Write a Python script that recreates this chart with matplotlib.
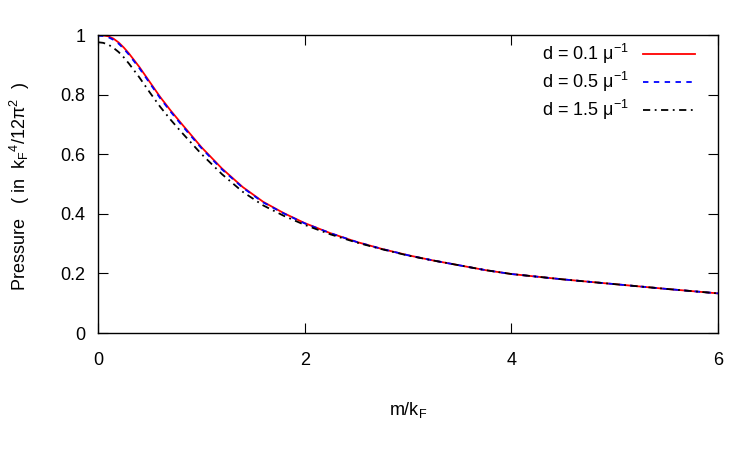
import matplotlib
matplotlib.use('Agg')
import matplotlib.pyplot as plt

plt.rcParams['font.family'] = ['Liberation Sans', 'DejaVu Sans']
plt.rcParams['mathtext.fontset'] = 'custom'
plt.rcParams['mathtext.rm'] = 'Liberation Sans'
plt.rcParams['mathtext.it'] = 'Liberation Sans'

# m/k_F sample points
m = [0, 0.05, 0.1, 0.15, 0.2, 0.25, 0.3, 0.4, 0.5, 0.6, 0.7, 0.8, 0.9, 1.0, 1.2, 1.4,
     1.6, 1.8, 2.0, 2.25, 2.5, 2.75, 3.0, 3.25, 3.5, 3.75, 4.0, 4.5, 5.0, 5.5, 6.0]

# pressure (in k_F^4/12pi^2) for each d
p_d01 = [1.0, 0.999, 0.996, 0.988, 0.975, 0.958, 0.938, 0.893, 0.843, 0.793, 0.748,
         0.706, 0.665, 0.624, 0.552, 0.490, 0.440, 0.402, 0.369, 0.335, 0.306, 0.282,
         0.261, 0.243, 0.227, 0.211, 0.198, 0.180, 0.164, 0.148, 0.133]
p_d05 = [0.998, 0.997, 0.993, 0.984, 0.971, 0.954, 0.934, 0.889, 0.839, 0.789, 0.744,
         0.702, 0.661, 0.621, 0.549, 0.488, 0.438, 0.401, 0.368, 0.335, 0.306, 0.282,
         0.261, 0.243, 0.227, 0.211, 0.198, 0.180, 0.164, 0.148, 0.133]
p_d15 = [0.976, 0.974, 0.968, 0.957, 0.943, 0.925, 0.904, 0.858, 0.808, 0.760, 0.717,
         0.677, 0.639, 0.601, 0.533, 0.474, 0.428, 0.393, 0.363, 0.331, 0.304, 0.281,
         0.260, 0.243, 0.227, 0.211, 0.198, 0.180, 0.164, 0.148, 0.133]

labels = [r'd = 0.1 μ$^{\mathregular{-1}}$', r'd = 0.5 μ$^{\mathregular{-1}}$',
          r'd = 1.5 μ$^{\mathregular{-1}}$']

fig = plt.figure(figsize=(7.5, 4.5), dpi=100)
ax = fig.add_axes([0.1307, 0.26, 0.8266, 0.662])

ax.plot(m, p_d01, color='#ff0000', lw=1.3, label=labels[0])
ax.plot(m, p_d05, color='#0000ff', lw=1.3, dashes=(3, 3), label=labels[1])
ax.plot(m, p_d15, color='black', lw=1.3, dashes=(4, 2.5, 1, 2.5), label=labels[2])

ax.set_xlim(0, 6)
ax.set_ylim(0, 1)
ax.set_xticks([0, 2, 4, 6])
ax.set_xticklabels(['0', '2', '4', '6'])
ax.set_yticks([0, 0.2, 0.4, 0.6, 0.8, 1])
ax.set_yticklabels(['0', '0.2', '0.4', '0.6', '0.8', '1'])
ax.tick_params(axis='both', direction='in', length=7, width=0.8, top=True, right=True,
               labelsize=13)
ax.tick_params(axis='x', pad=14)
ax.tick_params(axis='y', pad=9)
for s in ax.spines.values():
    s.set_linewidth(1.0)

fig.text(0.544, 0.09, r'm/k$_{\mathregular{F}}$', ha='center', va='center', fontsize=13)
fig.text(0.027, 0.585,
         r'Pressure   ( in  k$_{\mathregular{F}}$$^{\mathregular{4}}$/12π$^{\mathregular{2}}$  )',
         ha='center', va='center', rotation=90, fontsize=13)

leg = ax.legend(loc='upper right', bbox_to_anchor=(0.975, 1.0), frameon=False,
                markerfirst=False, fontsize=13, handlelength=2.9, labelspacing=0.2,
                borderaxespad=0, handletextpad=0.8)
for t in leg.get_texts():
    t.set_ha('right')

fig.savefig('out.png', dpi=100)
